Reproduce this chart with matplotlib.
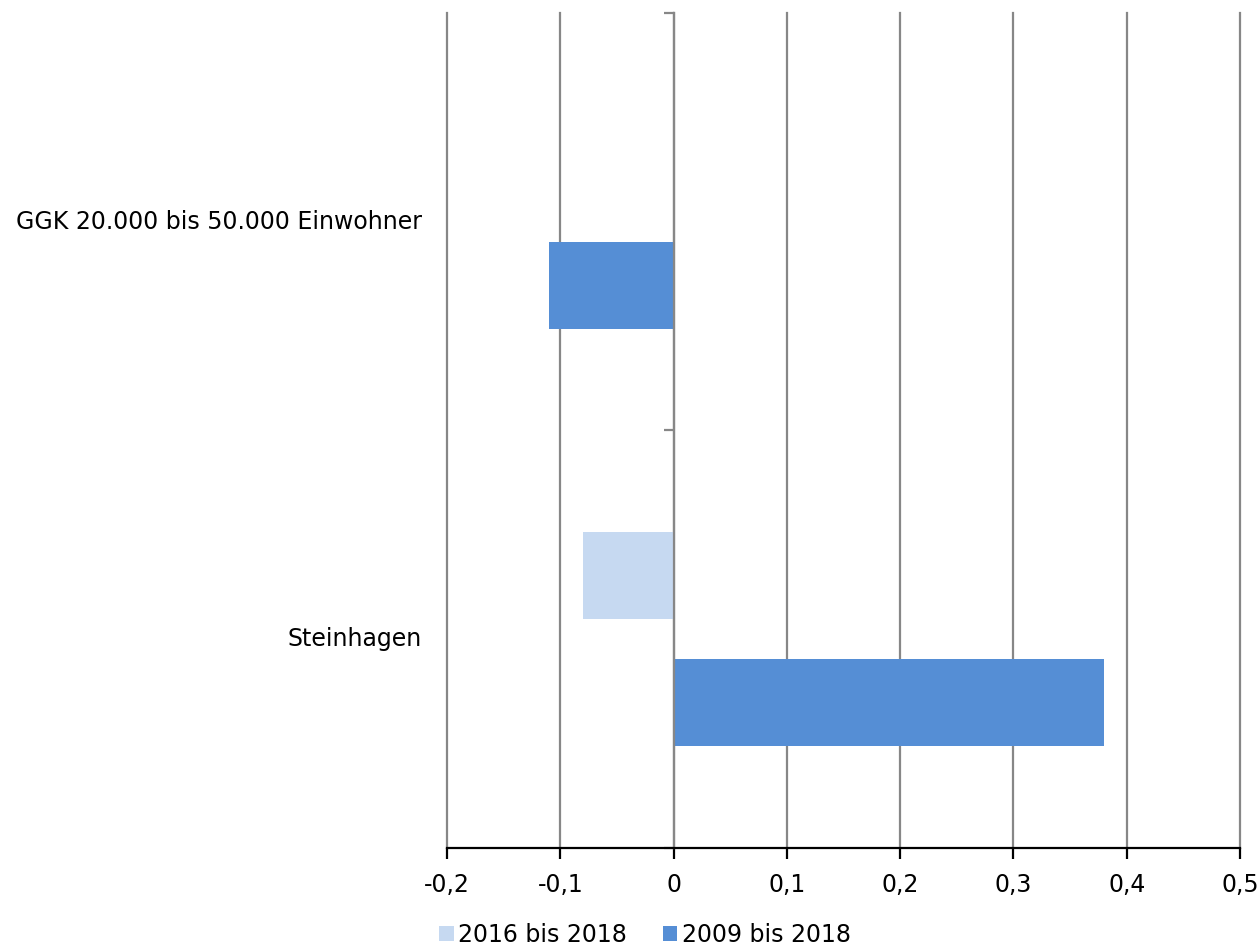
import matplotlib
import matplotlib.pyplot as plt
import numpy as np

matplotlib.rc("font", family=["DejaVu Sans"], size=17)

# Data
categories = ["GGK 20.000 bis 50.000 Einwohner", "Steinhagen"]
series_names = ["2016 bis 2018", "2009 bis 2018"]
values_2016 = [0.0, -0.08]
values_2009 = [-0.11, 0.38]
x_ticks = [-0.2, -0.1, 0, 0.1, 0.2, 0.3, 0.4, 0.5]

lightColour = "#C6D9F1"
darkColour = "#558ED5"
gridColour = "#878787"

figure = plt.figure(figsize=(12.59, 9.47), dpi=100)
axes = figure.add_axes([447 / 1259, 1 - 848 / 947, (1240 - 447) / 1259, (848 - 13) / 947])

# Category slots: top = 0 .. 1, bottom = 1 .. 2 (inverted y)
centers = np.arange(len(categories)) + 0.5
offset = 63.5 / 417
height = 87 / 417
axes.barh(centers - offset, values_2016, height=height, color=lightColour,
          label=series_names[0], zorder=3)
axes.barh(centers + offset, values_2009, height=height, color=darkColour,
          label=series_names[1], zorder=3)

axes.set_xlim(-0.2, 0.5)
axes.set_ylim(len(categories), 0)
axes.set_xticks(x_ticks)
axes.set_xticklabels([("%g" % t).replace(".", ",") for t in x_ticks])
axes.xaxis.grid(True, color=gridColour, linewidth=1.6, zorder=0)
for line in axes.get_xgridlines():
    line.set_clip_on(False)
axes.set_axisbelow(True)

# y axis drawn at x=0 with category boundary ticks
axes.spines["left"].set_position(("data", 0))
axes.spines["left"].set_color(gridColour)
axes.spines["left"].set_linewidth(1.6)
axes.spines["left"].set_zorder(4)
axes.spines["right"].set_visible(False)
axes.spines["top"].set_visible(False)
axes.spines["bottom"].set_linewidth(1.6)
axes.spines["bottom"].set_zorder(5)
axes.set_yticks([0, 1, 2])
axes.set_yticklabels([])
axes.tick_params(axis="y", length=7, width=1.6, color=gridColour)
axes.tick_params(axis="x", length=8, width=1.6, pad=10)

# category labels at left of the plot area
for c, name in zip(centers, categories):
    axes.text(-0.222, c, name, ha="right", va="center")

figure.legend(*axes.get_legend_handles_labels(), loc="center",
              bbox_to_anchor=(645 / 1259, 1 - 935 / 947), ncol=2,
              frameon=False, handlelength=0.6, handleheight=0.6,
              handletextpad=0.2, columnspacing=1.5, fontsize=17)

figure.savefig("out.png", dpi=100)
